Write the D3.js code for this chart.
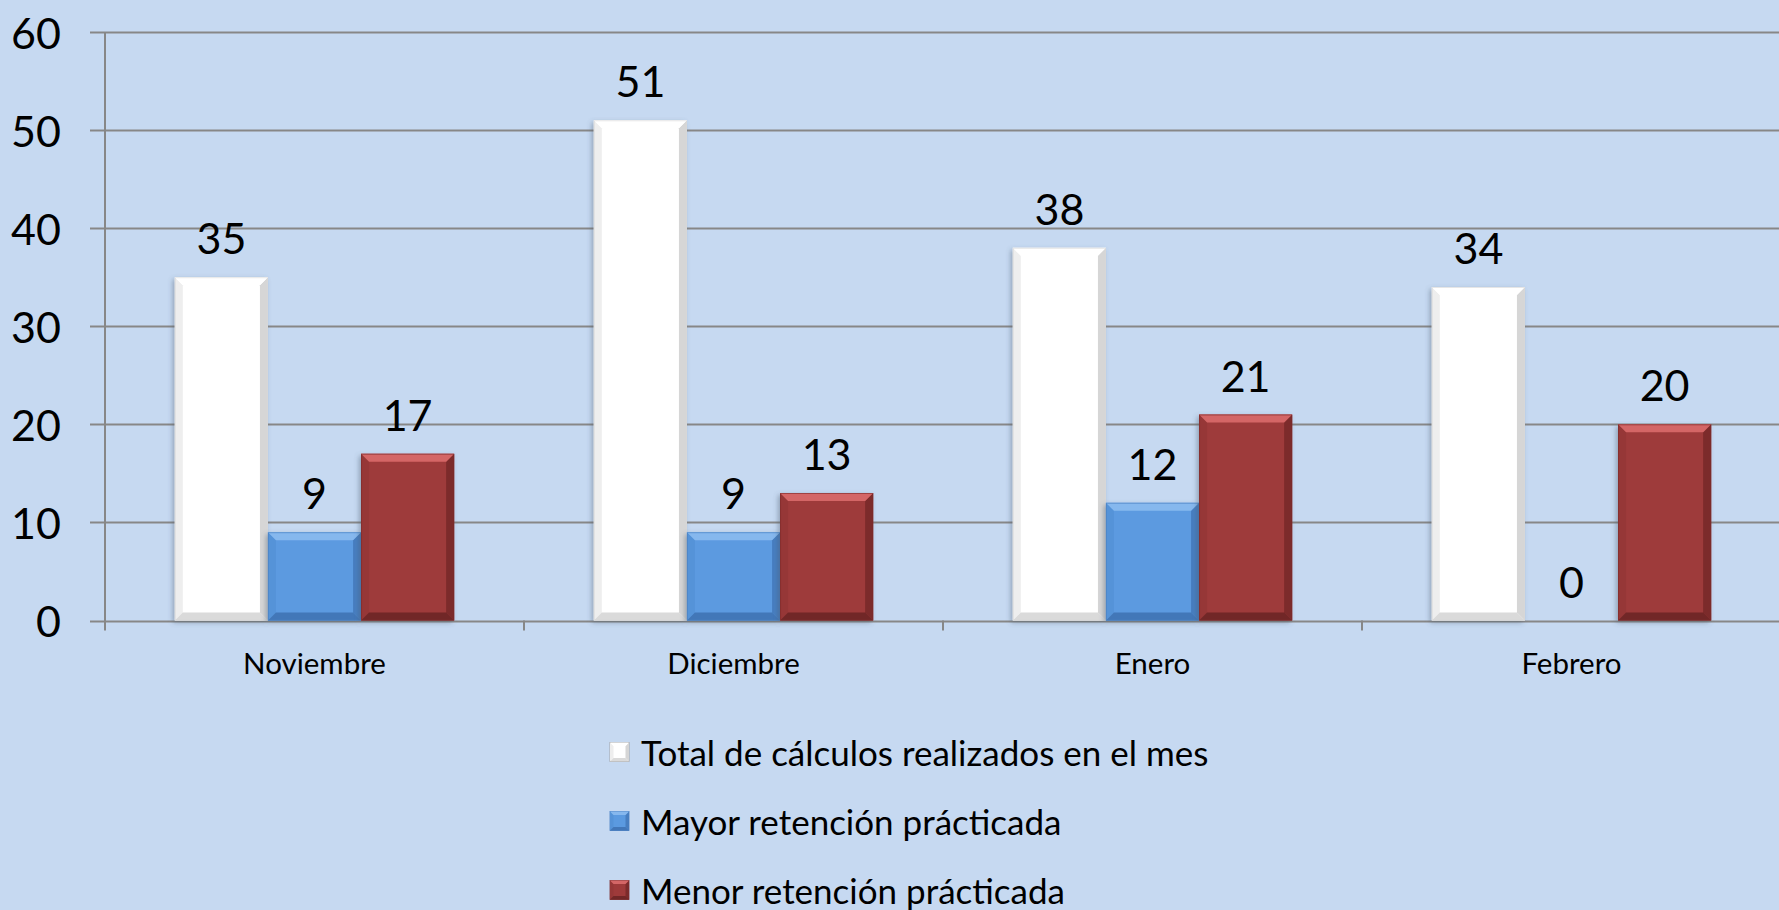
<!DOCTYPE html>
<html>
<head>
<meta charset="utf-8">
<script src="https://cdn.jsdelivr.net/npm/d3@7"></script>
<style>
  html, body { margin: 0; padding: 0; background: #C6D9F1; }
  svg { display: block; }
  text { font-family: Lato, "Open Sans", sans-serif; fill: #000; }
</style>
</head>
<body>
<svg id="chart" width="1779" height="910"></svg>
<script>
const categories = ["Noviembre", "Diciembre", "Enero", "Febrero"];
const seriesNames = ["Total de cálculos realizados en el mes", "Mayor retención prácticada", "Menor retención prácticada"];
const totalCalculos = [35, 51, 38, 34];
const mayorRetencion = [9, 9, 12, 0];
const menorRetencion = [17, 13, 21, 20];
const yTicks = [0, 10, 20, 30, 40, 50, 60];

const seriesValues = [totalCalculos, mayorRetencion, menorRetencion];
const palette = [
  { base: "#FFFFFF", top: "#FFFFFF", bottom: "#DADADA", side: "#EEEEEE", sideR: "#D6D6D6" },
  { base: "#5B9AE0", top: "#86B8EE", bottom: "#4277B8", side: "#5593D8", sideR: "#477EC0" },
  { base: "#9E3A3A", top: "#D46666", bottom: "#712727", side: "#963737", sideR: "#7C2B2B" }
];

const W = 1779, H = 910;
const svg = d3.select("#chart");
svg.append("rect").attr("width", W).attr("height", H).attr("fill", "#C6D9F1");

const defs = svg.append("defs");
const f = defs.append("filter").attr("id", "shadow").attr("x", "-20%").attr("y", "-20%").attr("width", "140%").attr("height", "140%");
f.append("feDropShadow").attr("dx", -2).attr("dy", 2).attr("stdDeviation", 2.5)
  .attr("flood-color", "#4a5a70").attr("flood-opacity", 0.45);

const plotLeft = 105, plotRight = 1781, plotTop = 32, plotBottom = 620.5;
const y = d3.scaleLinear().domain([0, 60]).range([plotBottom, plotTop]);
const x = d3.scaleBand().domain(categories).range([plotLeft, plotRight]).paddingInner(0).paddingOuter(0);
// Excel gap width 150%: bar width = band / (3 + 1.5)
const barW = x.bandwidth() / 4.5;
const barOffset = (x.bandwidth() - 3 * barW) / 2;

// Gridlines
const grid = svg.append("g");
grid.selectAll("line").data(yTicks).join("line")
  .attr("x1", plotLeft - 15).attr("x2", W)
  .attr("y1", d => Math.round(y(d)) + 0.5).attr("y2", d => Math.round(y(d)) + 0.5)
  .attr("stroke", "#878787").attr("stroke-width", 2);

// Y axis line
svg.append("line").attr("x1", plotLeft).attr("x2", plotLeft)
  .attr("y1", plotTop).attr("y2", plotBottom + 10)
  .attr("stroke", "#878787").attr("stroke-width", 2);

// Category tick marks
svg.append("g").selectAll("line").data(categories.slice(1)).join("line")
  .attr("x1", d => x(d)).attr("x2", d => x(d))
  .attr("y1", plotBottom).attr("y2", plotBottom + 10)
  .attr("stroke", "#878787").attr("stroke-width", 2);

// Y tick labels
svg.append("g").selectAll("text").data(yTicks).join("text")
  .attr("x", 61).attr("y", d => y(d))
  .attr("text-anchor", "end").attr("dominant-baseline", "central")
  .attr("font-size", 43).text(d => d);

// X labels
svg.append("g").selectAll("text").data(categories).join("text")
  .attr("x", d => x(d) + x.bandwidth() / 2).attr("y", 662)
  .attr("text-anchor", "middle").attr("dominant-baseline", "central")
  .attr("font-size", 29.5).text(d => d);

function bevelBar(g, bx, by, bw, bh, c, bev) {
  const gg = g.append("g");
  gg.append("rect").attr("x", bx).attr("y", by).attr("width", bw).attr("height", bh)
    .attr("fill", c.base).attr("filter", "url(#shadow)");
  if (bh <= 0) return;
  const b = Math.min(bev, bh / 2, bw / 2);
  const x0 = bx, x1 = bx + bw, y0 = by, y1 = by + bh;
  const poly = pts => pts.map(p => p.join(",")).join(" ");
  gg.append("polygon").attr("points", poly([[x0, y0], [x0 + b, y0 + b], [x0 + b, y1 - b], [x0, y1]])).attr("fill", c.side);
  gg.append("polygon").attr("points", poly([[x1, y0], [x1 - b, y0 + b], [x1 - b, y1 - b], [x1, y1]])).attr("fill", c.sideR);
  gg.append("polygon").attr("points", poly([[x0, y1], [x0 + b, y1 - b], [x1 - b, y1 - b], [x1, y1]])).attr("fill", c.bottom);
  gg.append("polygon").attr("points", poly([[x0, y0], [x0 + b, y0 + b], [x1 - b, y0 + b], [x1, y0]])).attr("fill", c.top);
  gg.append("rect").attr("x", x0 + 0.5).attr("y", y0 + 0.5).attr("width", bw - 1).attr("height", bh - 1)
    .attr("fill", "none").attr("stroke", c.sideR).attr("stroke-opacity", 0.6).attr("stroke-width", 1);
}

const bars = svg.append("g");
const labels = svg.append("g");
categories.forEach((cat, ci) => {
  seriesValues.forEach((vals, si) => {
    const v = vals[ci];
    const bx = x(cat) + barOffset + si * barW;
    const by = y(v);
    const bh = y(0) - y(v);
    if (v > 0) bevelBar(bars, bx, by, barW, bh, palette[si], 8);
    labels.append("text")
      .attr("x", bx + barW / 2).attr("y", by - 23)
      .attr("text-anchor", "middle").attr("font-size", 43).text(v);
  });
});

// Legend
const legend = svg.append("g");
const legendY = [752, 821, 890];
seriesNames.forEach((name, i) => {
  const c = palette[i];
  const s = 19, sx = 610, sy = legendY[i] - s / 2;
  const g = legend.append("g");
  g.append("rect").attr("x", sx).attr("y", sy).attr("width", s).attr("height", s).attr("fill", c.base)
    .attr("stroke", i === 0 ? "#9a9a9a" : c.sideR).attr("stroke-width", 0.8);
  const poly = pts => pts.map(p => p.join(",")).join(" ");
  const b = 3.5;
  g.append("polygon").attr("points", poly([[sx, sy], [sx + b, sy + b], [sx + b, sy + s - b], [sx, sy + s]])).attr("fill", c.side);
  g.append("polygon").attr("points", poly([[sx + s, sy], [sx + s - b, sy + b], [sx + s - b, sy + s - b], [sx + s, sy + s]])).attr("fill", c.sideR);
  g.append("polygon").attr("points", poly([[sx, sy], [sx + b, sy + b], [sx + s - b, sy + b], [sx + s, sy]])).attr("fill", c.top);
  g.append("polygon").attr("points", poly([[sx, sy + s], [sx + b, sy + s - b], [sx + s - b, sy + s - b], [sx + s, sy + s]])).attr("fill", c.bottom);
  g.append("text").attr("x", 641).attr("y", legendY[i])
    .attr("dominant-baseline", "central").attr("font-size", 35).text(name);
});
</script>
</body>
</html>
